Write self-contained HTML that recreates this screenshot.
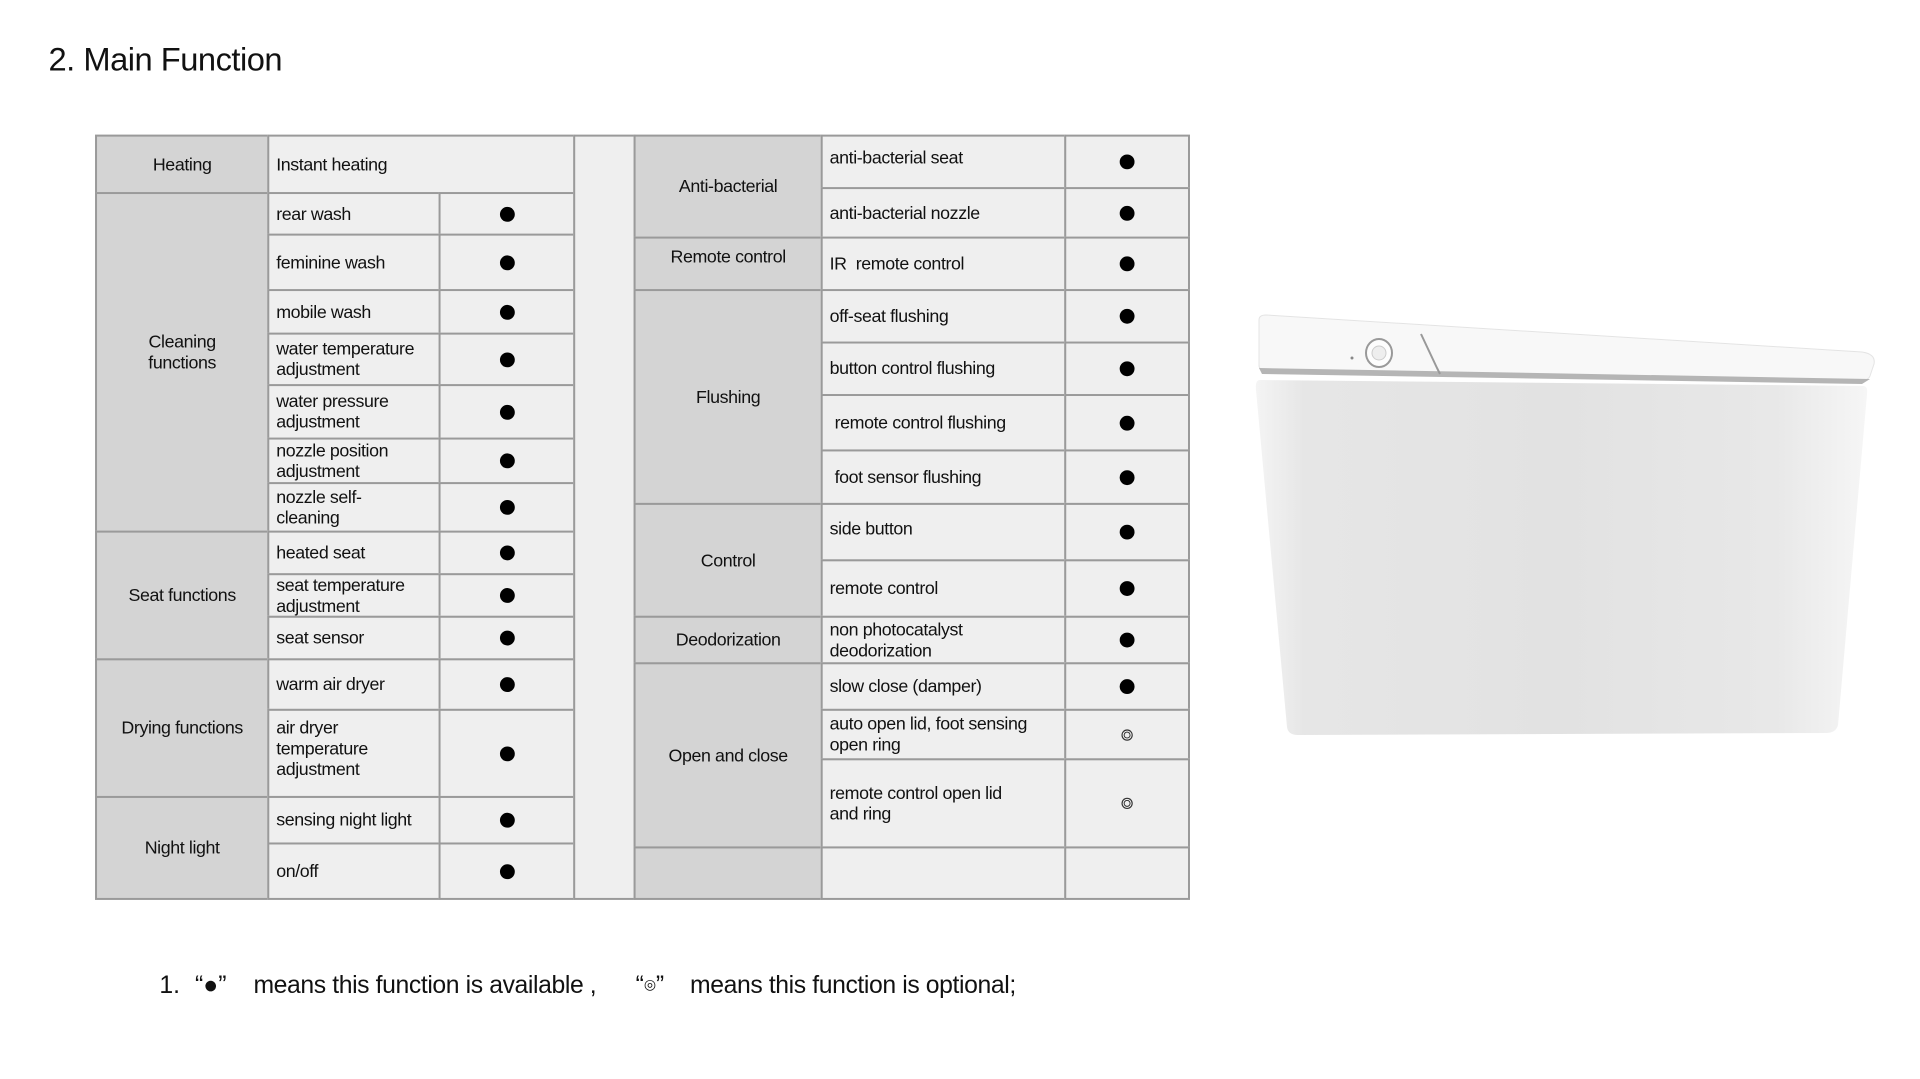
<!DOCTYPE html>
<html><head><meta charset="utf-8"><style>
body{margin:0;width:1920px;height:1079px;background:#fff;position:relative;overflow:hidden;font-family:"Liberation Sans",sans-serif;color:#111}
#w{position:absolute;left:0;top:0;width:1920px;height:1079px;transform:scale(0.99);transform-origin:0 0}
.c{position:absolute;box-sizing:border-box;border:2px solid #9a9a9a;background:#efefef;display:flex;align-items:center;font-size:18px;line-height:21px;letter-spacing:-0.4px;padding-left:7px}
.h{background:#d4d4d4;justify-content:center;text-align:center;padding:0}
.d{justify-content:center;padding:0}
.d::after{content:"";width:15px;height:15px;border-radius:50%;background:#000}
.o{justify-content:center;padding:0}
.o::after{content:"";width:5px;height:5px;border-radius:50%;border:1.5px solid #333;box-shadow:0 0 0 1px #fff,0 0 0 2.2px #333}
.t{position:absolute;white-space:nowrap}
</style></head><body>
<div id="w">
<div class="t" style="left:49px;top:41px;font-size:33px;letter-spacing:-0.5px">2. Main Function</div>

<div class="c h" style="left:96px;top:136px;width:176px;height:60px">Heating</div>
<div class="c" style="left:270px;top:136px;width:311px;height:60px">Instant heating</div>
<div class="c h" style="left:96px;top:194px;width:176px;height:344px;padding-bottom:20px">Cleaning<br>functions</div>
<div class="c h" style="left:96px;top:536px;width:176px;height:131px">Seat functions</div>
<div class="c h" style="left:96px;top:665px;width:176px;height:141px">Drying functions</div>
<div class="c h" style="left:96px;top:804px;width:176px;height:105px">Night light</div>

<div class="c" style="left:270px;top:194px;width:175px;height:44px">rear wash</div><div class="c d" style="left:443px;top:194px;width:138px;height:44px"></div>
<div class="c" style="left:270px;top:236px;width:175px;height:58px">feminine wash</div><div class="c d" style="left:443px;top:236px;width:138px;height:58px"></div>
<div class="c" style="left:270px;top:292px;width:175px;height:46px">mobile wash</div><div class="c d" style="left:443px;top:292px;width:138px;height:46px"></div>
<div class="c" style="left:270px;top:336px;width:175px;height:54px">water temperature<br>adjustment</div><div class="c d" style="left:443px;top:336px;width:138px;height:54px"></div>
<div class="c" style="left:270px;top:388px;width:175px;height:56px">water pressure<br>adjustment</div><div class="c d" style="left:443px;top:388px;width:138px;height:56px"></div>
<div class="c" style="left:270px;top:442px;width:175px;height:47px">nozzle position<br>adjustment</div><div class="c d" style="left:443px;top:442px;width:138px;height:47px"></div>
<div class="c" style="left:270px;top:487px;width:175px;height:51px">nozzle self-<br>cleaning</div><div class="c d" style="left:443px;top:487px;width:138px;height:51px"></div>
<div class="c" style="left:270px;top:536px;width:175px;height:45px">heated seat</div><div class="c d" style="left:443px;top:536px;width:138px;height:45px"></div>
<div class="c" style="left:270px;top:579px;width:175px;height:45px">seat temperature<br>adjustment</div><div class="c d" style="left:443px;top:579px;width:138px;height:45px"></div>
<div class="c" style="left:270px;top:622px;width:175px;height:45px">seat sensor</div><div class="c d" style="left:443px;top:622px;width:138px;height:45px"></div>
<div class="c" style="left:270px;top:665px;width:175px;height:53px">warm air dryer</div><div class="c d" style="left:443px;top:665px;width:138px;height:53px"></div>
<div class="c" style="left:270px;top:716px;width:175px;height:90px;padding-bottom:10px">air dryer<br>temperature<br>adjustment</div><div class="c d" style="left:443px;top:716px;width:138px;height:90px"></div>
<div class="c" style="left:270px;top:804px;width:175px;height:49px">sensing night light</div><div class="c d" style="left:443px;top:804px;width:138px;height:49px"></div>
<div class="c" style="left:270px;top:851px;width:175px;height:58px">on/off</div><div class="c d" style="left:443px;top:851px;width:138px;height:58px"></div>

<div class="c" style="left:579px;top:136px;width:63px;height:773px"></div>

<div class="c h" style="left:640px;top:136px;width:191px;height:105px">Anti-bacterial</div>
<div class="c h" style="left:640px;top:239px;width:191px;height:55px;padding-bottom:14px">Remote control</div>
<div class="c h" style="left:640px;top:292px;width:191px;height:218px">Flushing</div>
<div class="c h" style="left:640px;top:508px;width:191px;height:116px">Control</div>
<div class="c h" style="left:640px;top:622px;width:191px;height:49px">Deodorization</div>
<div class="c h" style="left:640px;top:669px;width:191px;height:188px">Open and close</div>
<div class="c h" style="left:640px;top:855px;width:191px;height:54px"></div>

<div class="c" style="left:829px;top:136px;width:248px;height:55px;padding-bottom:8px">anti-bacterial seat</div><div class="c d" style="left:1075px;top:136px;width:127px;height:55px"></div>
<div class="c" style="left:829px;top:189px;width:248px;height:52px">anti-bacterial nozzle</div><div class="c d" style="left:1075px;top:189px;width:127px;height:52px"></div>
<div class="c" style="left:829px;top:239px;width:248px;height:55px">IR&nbsp; remote control</div><div class="c d" style="left:1075px;top:239px;width:127px;height:55px"></div>
<div class="c" style="left:829px;top:292px;width:248px;height:55px">off-seat flushing</div><div class="c d" style="left:1075px;top:292px;width:127px;height:55px"></div>
<div class="c" style="left:829px;top:345px;width:248px;height:55px">button control flushing</div><div class="c d" style="left:1075px;top:345px;width:127px;height:55px"></div>
<div class="c" style="left:829px;top:398px;width:248px;height:58px;padding-left:12px">remote control flushing</div><div class="c d" style="left:1075px;top:398px;width:127px;height:58px"></div>
<div class="c" style="left:829px;top:454px;width:248px;height:56px;padding-left:12px">foot sensor flushing</div><div class="c d" style="left:1075px;top:454px;width:127px;height:56px"></div>
<div class="c" style="left:829px;top:508px;width:248px;height:59px;padding-bottom:6px">side button</div><div class="c d" style="left:1075px;top:508px;width:127px;height:59px"></div>
<div class="c" style="left:829px;top:565px;width:248px;height:59px">remote control</div><div class="c d" style="left:1075px;top:565px;width:127px;height:59px"></div>
<div class="c" style="left:829px;top:622px;width:248px;height:49px">non photocatalyst<br>deodorization</div><div class="c d" style="left:1075px;top:622px;width:127px;height:49px"></div>
<div class="c" style="left:829px;top:669px;width:248px;height:49px">slow close (damper)</div><div class="c d" style="left:1075px;top:669px;width:127px;height:49px"></div>
<div class="c" style="left:829px;top:716px;width:248px;height:52px">auto open lid, foot sensing<br>open ring</div><div class="c o" style="left:1075px;top:716px;width:127px;height:52px"></div>
<div class="c" style="left:829px;top:766px;width:248px;height:91px">remote control open lid<br>and ring</div><div class="c o" style="left:1075px;top:766px;width:127px;height:91px"></div>
<div class="c" style="left:829px;top:855px;width:248px;height:54px"></div><div class="c" style="left:1075px;top:855px;width:127px;height:54px"></div>

<div class="t" style="left:161px;top:981px;font-size:25px">1.</div>
<div class="t" style="left:197px;top:981px;font-size:25px">“●”</div>
<div class="t" style="left:256px;top:981px;font-size:25px;letter-spacing:-0.4px">means this function is available ,</div>
<div class="t" style="left:642px;top:981px;font-size:25px">“<span style="font-size:14px;vertical-align:4px">◎</span>”</div>
<div class="t" style="left:697px;top:981px;font-size:25px;letter-spacing:-0.4px">means this function is optional;</div>
</div>

<svg style="position:absolute;left:0;top:0" width="1920" height="1079">
<defs>
<linearGradient id="g" x1="0" x2="1" y1="0" y2="0">
<stop offset="0" stop-color="#f4f4f4"/><stop offset="0.08" stop-color="#e6e6e6"/><stop offset="0.5" stop-color="#e2e2e2"/><stop offset="0.85" stop-color="#e8e8e8"/><stop offset="1" stop-color="#f6f6f6"/>
</linearGradient>
</defs>
<path d="M1260 380 L1864 386 Q1868 387 1867 394 L1838 725 Q1836 733 1826 733 L1298 735 Q1288 735 1287 727 L1256 390 Q1255 380 1260 380Z" fill="url(#g)"/>
<path d="M1259 320 Q1259 315 1266 315 L1862 352 Q1876 354 1874 364 L1870 376 Q1868 381 1858 381 L1264 370 Q1259 370 1259 365Z" fill="#f8f8f8" stroke="#e4e4e4"/>
<path d="M1259 368 L1870 379 L1862 384 L1262 374Z" fill="#b5b5b5"/>
<path d="M1421 334 L1437 368 L1440 374" stroke="#999" stroke-width="2" fill="none"/>
<ellipse cx="1379" cy="353" rx="13" ry="14" fill="#fdfdfd" stroke="#999" stroke-width="2"/>
<circle cx="1379" cy="353" r="7" fill="#eee" stroke="#ccc"/>
<circle cx="1352" cy="358" r="1.5" fill="#888"/>
</svg>
</body></html>
